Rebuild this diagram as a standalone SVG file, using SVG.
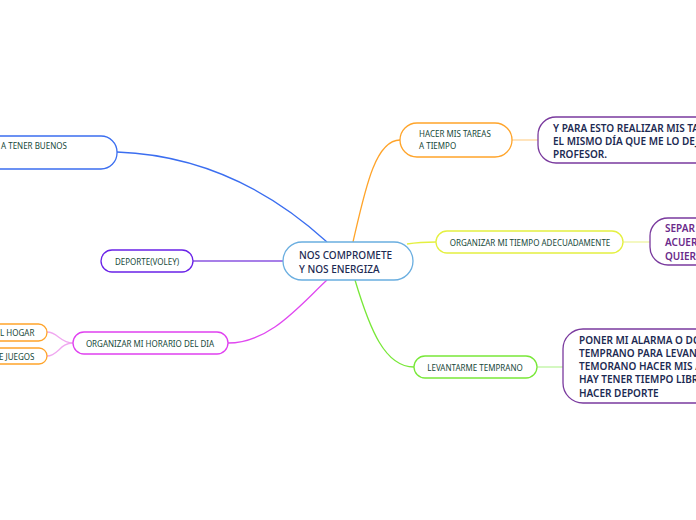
<svg xmlns="http://www.w3.org/2000/svg" width="696" height="520" viewBox="0 0 696 520">
<style>
.n{fill:#fff;stroke-width:1.3}
.s{font-family:"Noto Sans","Open Sans",sans-serif;font-size:8px;fill:#17493a}
.b{font-family:"Noto Sans","Open Sans",sans-serif;font-size:10px;font-weight:600;fill:#1c2a52}
.c{fill:none;stroke-width:1.3}
</style>
<rect width="696" height="520" fill="#fff"/>
<g id="connectors">
<path class="c" d="M117,152 C200,155 270,190 327,242" stroke="#3b6ef0"/>
<path class="c" d="M193,261 L283,261" stroke="#8a55e0"/>
<path class="c" d="M228,343 C270,343 300,305 327,280" stroke="#e048f0"/>
<path class="c" d="M73,343 C60,343 58,332 47,332" stroke="#f0a8f0"/>
<path class="c" d="M73,343 C60,343 58,356 47,356" stroke="#f0a8f0"/>
<path class="c" d="M353,242 C365,190 375,140 400,140" stroke="#ffa42a"/>
<path class="c" d="M512,140 L538,140" stroke="#ffd59a"/>
<path class="c" d="M407,244 C420,242 425,242 436,242" stroke="#e4f040"/>
<path class="c" d="M623,242 L650,242" stroke="#eef5a0"/>
<path class="c" d="M355,280 C370,330 385,367 414,367" stroke="#78e838"/>
<path class="c" d="M537,367 L563,367" stroke="#bdf5a0"/>
</g>
<g id="center">
<rect class="n" x="283" y="242" width="130" height="38" rx="19" stroke="#6aaee0"/>
<text class="b" x="299" y="259" style="font-size:10px;font-weight:500">NOS COMPROMETE</text>
<text class="b" x="299" y="273" style="font-size:10px;font-weight:500">Y NOS ENERGIZA</text>
</g>
<g id="buenos">
<rect class="n" x="-40" y="136" width="157" height="33" rx="16" stroke="#3b6ef0"/>
<text class="s" x="1" y="149">A TENER BUENOS</text>
</g>
<g id="deporte">
<rect class="n" x="101" y="250" width="92" height="22" rx="11" stroke="#6a22e8"/>
<text class="s" x="147" y="265" text-anchor="middle">DEPORTE(VOLEY)</text>
</g>
<g id="horario">
<rect class="n" x="73" y="332" width="155" height="22" rx="11" stroke="#e040f0"/>
<text class="s" x="150" y="347" text-anchor="middle">ORGANIZAR MI HORARIO DEL DIA</text>
</g>
<g id="hogar">
<rect class="n" x="-30" y="324" width="77" height="17" rx="8.5" stroke="#ffa42a"/>
<text class="s" x="0" y="336">L HOGAR</text>
</g>
<g id="juegos">
<rect class="n" x="-30" y="348" width="77" height="16" rx="8" stroke="#ffa42a"/>
<text class="s" x="-1" y="360">E JUEGOS</text>
</g>
<g id="tareas">
<rect class="n" x="400" y="123" width="112" height="34" rx="17" stroke="#ffa42a"/>
<text class="s" x="419" y="137">HACER MIS TAREAS</text>
<text class="s" x="419" y="149">A TIEMPO</text>
</g>
<g id="realizar">
<rect class="n" x="538" y="117" width="200" height="46" rx="18" stroke="#7a3a9e"/>
<text class="b" x="553" y="132">Y PARA ESTO REALIZAR MIS TA</text>
<text class="b" x="553" y="145">EL MISMO DÍA QUE ME LO DEJ</text>
<text class="b" x="553" y="158">PROFESOR.</text>
</g>
<g id="tiempo">
<rect class="n" x="436" y="231" width="187" height="22" rx="11" stroke="#e4f040"/>
<text class="s" x="530" y="246" text-anchor="middle">ORGANIZAR MI TIEMPO ADECUADAMENTE</text>
</g>
<g id="separ">
<rect class="n" x="650" y="218" width="80" height="47" rx="18" stroke="#7a3a9e"/>
<text class="b" x="665" y="232" style="fill:#6a2a8a">SEPAR</text>
<text class="b" x="665" y="246" style="fill:#6a2a8a">ACUER</text>
<text class="b" x="665" y="260" style="fill:#6a2a8a">QUIER</text>
</g>
<g id="levantarme">
<rect class="n" x="414" y="356" width="123" height="22" rx="11" stroke="#78e838"/>
<text class="s" x="475" y="371" text-anchor="middle">LEVANTARME TEMPRANO</text>
</g>
<g id="alarma">
<rect class="n" x="563" y="329" width="180" height="74" rx="20" stroke="#7a3a9e"/>
<text class="b" x="579" y="344">PONER MI ALARMA O DOS</text>
<text class="b" x="579" y="357">TEMPRANO PARA LEVANTA</text>
<text class="b" x="579" y="370">TEMORANO HACER MIS A</text>
<text class="b" x="579" y="383">HAY TENER TIEMPO LIBRE</text>
<text class="b" x="579" y="397">HACER DEPORTE</text>
</g>
</svg>
